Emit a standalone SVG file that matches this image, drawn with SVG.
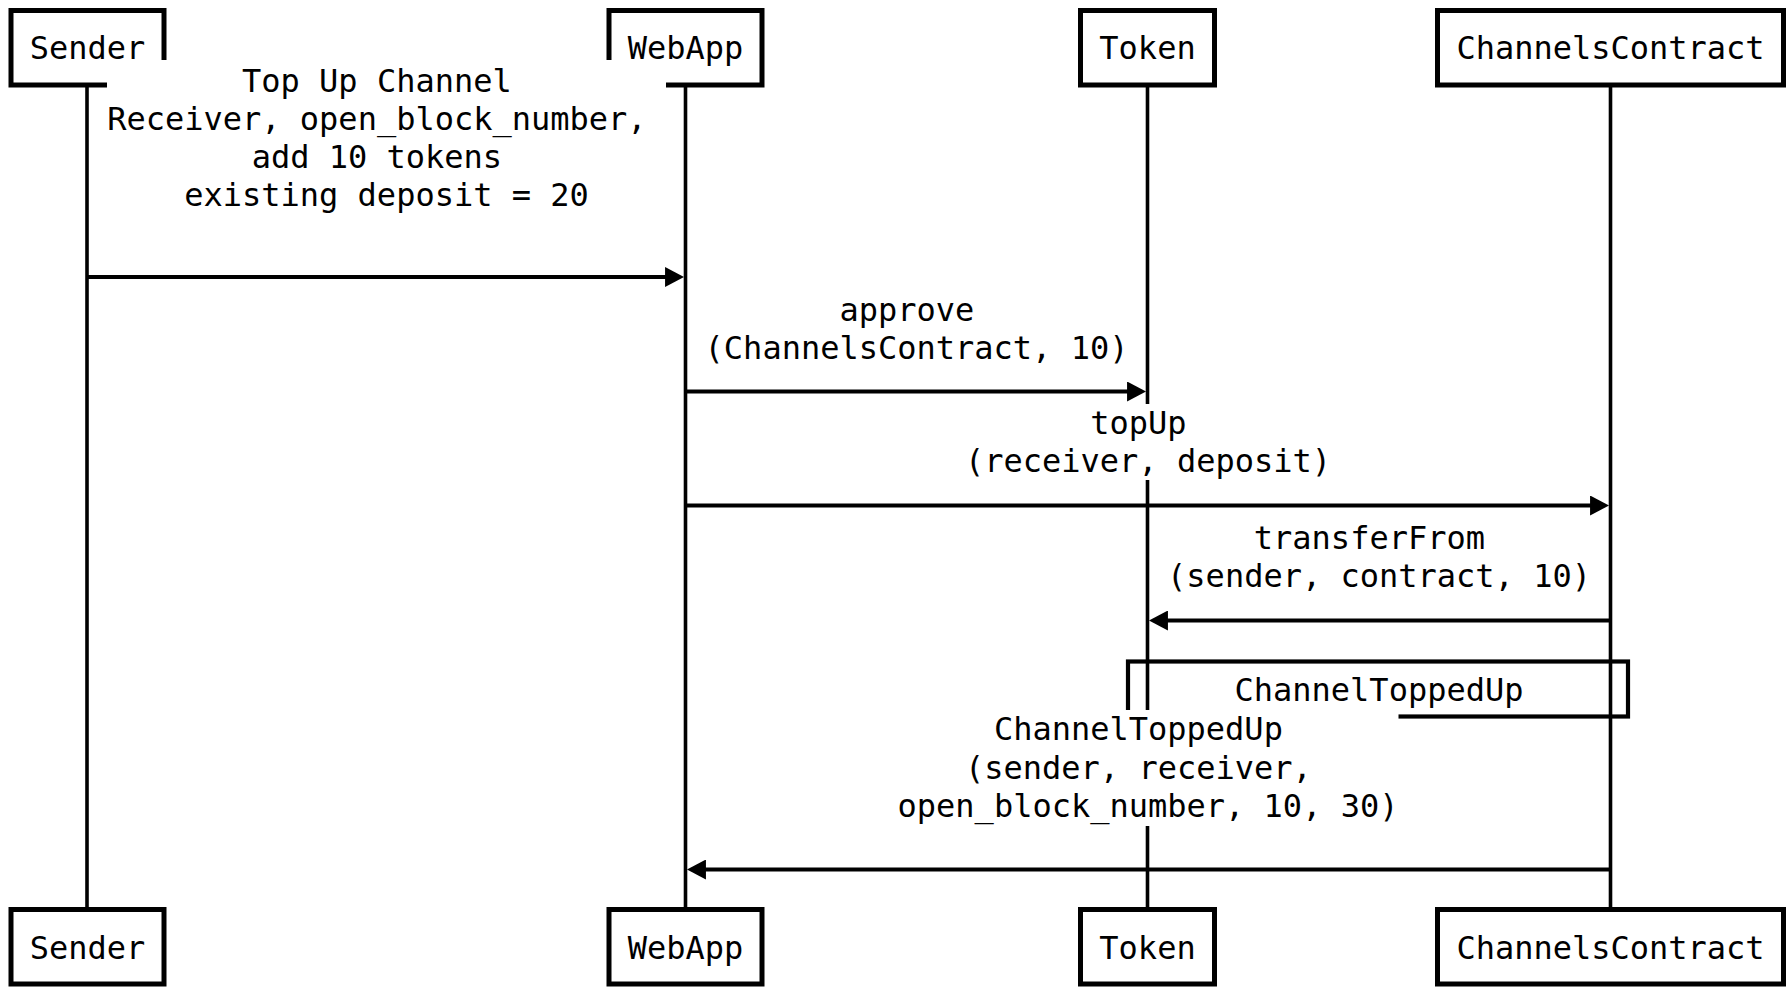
<svg xmlns="http://www.w3.org/2000/svg" width="1792" height="998" viewBox="0 0 1792 998">
<defs>
<marker id="ah" markerUnits="userSpaceOnUse" markerWidth="20" markerHeight="20" viewBox="0 0 18 19" refX="8" refY="9.5" orient="auto">
<path d="M0,0 L18,9.5 L0,19 z" fill="#000"/>
</marker>
<style>
text{font-family:"DejaVu Sans Mono","Liberation Mono",monospace;font-size:32px;fill:#000;text-anchor:middle}
.life{stroke:#000;stroke-width:3.6;fill:none}
.box rect{fill:#fff;stroke:#000;stroke-width:5}
.msg{stroke:#000;stroke-width:4;fill:none;marker-end:url(#ah)}
.loop{stroke:#000;stroke-width:4.2;fill:none}
.bg{fill:#fff;stroke:none}
</style>
</defs>
<rect width="1792" height="998" fill="#fff"/>
<g id="lifelines">
<line class="life" x1="87" y1="87" x2="87" y2="908"/>
<line class="life" x1="685.5" y1="87" x2="685.5" y2="908"/>
<line class="life" x1="1147.5" y1="87" x2="1147.5" y2="908"/>
<line class="life" x1="1610.5" y1="87" x2="1610.5" y2="908"/>
</g>
<g id="sender-top" class="box"><rect x="11" y="10.5" width="153" height="74.5"/><text x="87.5" y="59.3">Sender</text></g>
<g id="webapp-top" class="box"><rect x="609" y="10.5" width="153" height="74.5"/><text x="685.5" y="59.3">WebApp</text></g>
<g id="token-top" class="box"><rect x="1080.5" y="10.5" width="134" height="74.5"/><text x="1147.5" y="59.3">Token</text></g>
<g id="channels-top" class="box"><rect x="1437.5" y="10.5" width="346" height="74.5"/><text x="1610.5" y="59.3">ChannelsContract</text></g>
<g id="sender-bottom" class="box"><rect x="11" y="909.5" width="153" height="74.5"/><text x="87.5" y="958.5">Sender</text></g>
<g id="webapp-bottom" class="box"><rect x="609" y="909.5" width="153" height="74.5"/><text x="685.5" y="958.5">WebApp</text></g>
<g id="token-bottom" class="box"><rect x="1080.5" y="909.5" width="134" height="74.5"/><text x="1147.5" y="958.5">Token</text></g>
<g id="channels-bottom" class="box"><rect x="1437.5" y="909.5" width="346" height="74.5"/><text x="1610.5" y="958.5">ChannelsContract</text></g>
<g id="connectors">
<line class="msg" x1="87" y1="277" x2="673.5" y2="277"/>
<line class="msg" x1="685.5" y1="391.5" x2="1135.5" y2="391.5"/>
<line class="msg" x1="685.5" y1="505.5" x2="1598.5" y2="505.5"/>
<line class="msg" x1="1610.5" y1="620.5" x2="1159.5" y2="620.5"/>
<rect class="loop" x="1128" y="661.5" width="500" height="55"/>
<line class="msg" x1="1610.5" y1="869.5" x2="697.5" y2="869.5"/>
</g>
<g id="labels">
<rect class="bg" x="107" y="60" width="559" height="156"/>
<text x="376.9" y="91.5">Top Up Channel</text>
<text x="376.9" y="129.5">Receiver, open_block_number,</text>
<text x="376.9" y="167.5">add 10 tokens</text>
<text x="386.5" y="205.5">existing deposit = 20</text>
<rect class="bg" x="704.5" y="292" width="424" height="77"/>
<text x="906.9" y="320.5">approve</text>
<text x="916.5" y="358.5">(ChannelsContract, 10)</text>
<rect class="bg" x="965" y="404" width="366" height="76"/>
<text x="1138.4" y="434">topUp</text>
<text x="1148" y="472">(receiver, deposit)</text>
<rect class="bg" x="1167" y="520" width="424" height="77"/>
<text x="1369.4" y="548.5">transferFrom</text>
<text x="1379" y="586.5">(sender, contract, 10)</text>
<rect class="bg" x="1234.5" y="672" width="289" height="38"/>
<text x="1379" y="701">ChannelToppedUp</text>
<rect class="bg" x="897.5" y="710" width="501" height="116"/>
<text x="1138.4" y="740">ChannelToppedUp</text>
<text x="1138.4" y="778.5">(sender, receiver,</text>
<text x="1148" y="817">open_block_number, 10, 30)</text>
</g>
</svg>
